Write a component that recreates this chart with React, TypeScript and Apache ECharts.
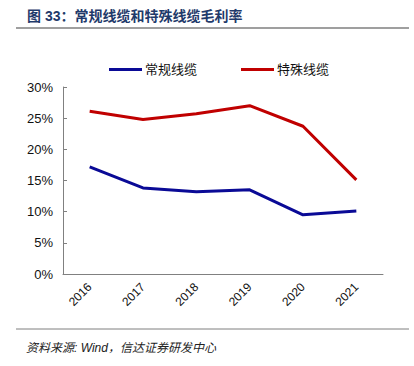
import React, { useEffect, useRef } from "react";
import * as echarts from "echarts";

const years = ["2016", "2017", "2018", "2019", "2020", "2021"];
const regularCable = [17.2, 13.8, 13.2, 13.5, 9.5, 10.1];
const specialCable = [26.1, 24.8, 25.7, 27.0, 23.7, 15.1];
const seriesNames = ["常规线缆", "特殊线缆"];
const yTicks = [0, 5, 10, 15, 20, 25, 30];

const FONT = "'Liberation Sans', Arial, 'Noto Sans CJK SC', sans-serif";

export default function App() {
  const ref = useRef<HTMLDivElement>(null);
  useEffect(() => {
    const chart = echarts.init(ref.current!, null, { renderer: "svg" });
    chart.setOption({
      animation: false,
      backgroundColor: "#ffffff",
      textStyle: { fontFamily: FONT },
      graphic: [
        {
          type: "text",
          left: 27,
          top: 9,
          style: {
            text: "图 33：常规线缆和特殊线缆毛利率",
            fontSize: 14,
            fontWeight: "bold",
            fill: "#1f3a6b",
            fontFamily: FONT,
          },
        },
        {
          type: "line",
          shape: { x1: 16, y1: 28, x2: 409, y2: 28 },
          style: { stroke: "#7f7f7f", lineWidth: 1.5 },
        },
        {
          type: "line",
          shape: { x1: 16, y1: 329, x2: 409, y2: 329 },
          style: { stroke: "#7f7f7f", lineWidth: 1 },
        },
        {
          type: "text",
          left: 26,
          top: 342,
          style: {
            text: "资料来源: Wind，信达证券研发中心",
            fontSize: 12,
            fontStyle: "italic",
            fill: "#222",
            fontFamily: FONT,
          },
        },
      ],
      legend: {
        top: 58,
        left: 104,
        itemWidth: 33,
        itemHeight: 3,
        itemGap: 44,
        icon: "rect",
        textStyle: { fontSize: 13, color: "#111", fontFamily: FONT, padding: [0, 0, 0, -2] },
        data: seriesNames,
      },
      grid: { left: 63, top: 87, right: 31, bottom: 92, containLabel: false },
      xAxis: {
        type: "category",
        data: years,
        boundaryGap: true,
        axisLine: { show: true, lineStyle: { color: "#808080", width: 1 } },
        axisTick: { show: false },
        axisLabel: { rotate: 45, fontSize: 12, color: "#111", margin: 11, fontFamily: FONT },
      },
      yAxis: {
        type: "value",
        min: yTicks[0],
        max: yTicks[yTicks.length - 1],
        interval: 5,
        splitLine: { show: false },
        axisLine: { show: true, lineStyle: { color: "#808080", width: 1 } },
        axisTick: { show: true, inside: true, length: 4, lineStyle: { color: "#808080" } },
        axisLabel: { formatter: "{value}%", fontSize: 13, color: "#111", margin: 10, fontFamily: FONT },
      },
      series: [
        {
          name: seriesNames[0],
          type: "line",
          data: regularCable,
          symbol: "none",
          lineStyle: { color: "#0a0a96", width: 3 },
          itemStyle: { color: "#0a0a96" },
        },
        {
          name: seriesNames[1],
          type: "line",
          data: specialCable,
          symbol: "none",
          lineStyle: { color: "#c00000", width: 3 },
          itemStyle: { color: "#c00000" },
        },
      ],
    });
    return () => chart.dispose();
  }, []);
  return <div ref={ref} style={{ width: 414, height: 366, position: "absolute", left: 0, top: 0 }} />;
}
